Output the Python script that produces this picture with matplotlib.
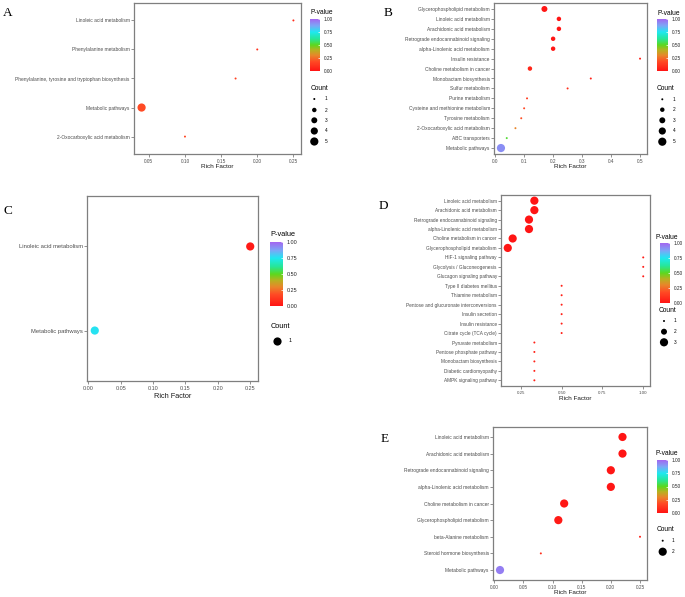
import numpy as np
import matplotlib
matplotlib.use("Agg")
import matplotlib.pyplot as plt
from matplotlib.colors import LinearSegmentedColormap, Normalize
from matplotlib.cm import ScalarMappable

plt.rcParams['font.family'] = ['Liberation Sans', 'DejaVu Sans']

# ---------------- data ----------------
A_terms = ["Linoleic acid metabolism", "Phenylalanine metabolism",
           "Phenylalanine, tyrosine and tryptophan biosynthesis",
           "Metabolic pathways", "2-Oxocarboxylic acid metabolism"]
A_rich = [0.25, 0.20, 0.17, 0.04, 0.10]
A_p = [0.08, 0.10, 0.15, 0.18, 0.17]
A_count = [1, 1, 1, 5, 1]
A_levels = [1, 2, 3, 4, 5]

B_terms = ["Glycerophospholipid metabolism", "Linoleic acid metabolism",
           "Arachidonic acid metabolism", "Retrograde endocannabinoid signaling",
           "alpha-Linolenic acid metabolism", "Insulin resistance",
           "Choline metabolism in cancer", "Monobactam biosynthesis",
           "Sulfur metabolism", "Purine metabolism",
           "Cysteine and methionine metabolism", "Tyrosine metabolism",
           "2-Oxocarboxylic acid metabolism", "ABC transporters",
           "Metabolic pathways"]
B_rich = [0.17, 0.22, 0.22, 0.20, 0.20, 0.50, 0.12, 0.33, 0.25, 0.11,
          0.10, 0.09, 0.07, 0.04, 0.02]
B_p = [0.01, 0.005, 0.005, 0.01, 0.01, 0.04, 0.06, 0.05, 0.09, 0.14,
       0.17, 0.19, 0.30, 0.52, 0.92]
B_count = [3, 2, 2, 2, 2, 1, 2, 1, 1, 1, 1, 1, 1, 1, 5]
B_levels = [1, 2, 3, 4, 5]

C_terms = ["Linoleic acid metabolism", "Metabolic pathways"]
C_rich = [0.25, 0.01]
C_p = [0.02, 0.76]
C_count = [1, 1]
C_levels = [1]

D_terms = ["Linoleic acid metabolism", "Arachidonic acid metabolism",
           "Retrograde endocannabinoid signaling", "alpha-Linolenic acid metabolism",
           "Choline metabolism in cancer", "Glycerophospholipid metabolism",
           "HIF-1 signaling pathway", "Glycolysis / Gluconeogenesis",
           "Glucagon signaling pathway", "Type II diabetes mellitus",
           "Thiamine metabolism", "Pentose and glucuronate interconversions",
           "Insulin secretion", "Insulin resistance", "Citrate cycle (TCA cycle)",
           "Pyruvate metabolism", "Pentose phosphate pathway",
           "Monobactam biosynthesis", "Diabetic cardiomyopathy",
           "AMPK signaling pathway"]
D_rich = [0.333, 0.333, 0.30, 0.30, 0.20, 0.17, 1.0, 1.0, 1.0, 0.5, 0.5, 0.5,
          0.5, 0.5, 0.5, 0.333, 0.333, 0.333, 0.333, 0.333]
D_p = [0.002, 0.002, 0.003, 0.003, 0.006, 0.008, 0.03, 0.03, 0.03, 0.04, 0.04,
       0.04, 0.04, 0.04, 0.04, 0.05, 0.05, 0.05, 0.05, 0.05]
D_count = [3, 3, 3, 3, 3, 3, 1, 1, 1, 1, 1, 1, 1, 1, 1, 1, 1, 1, 1, 1]
D_levels = [1, 2, 3]

E_terms = ["Linoleic acid metabolism", "Arachidonic acid metabolism",
           "Retrograde endocannabinoid signaling", "alpha-Linolenic acid metabolism",
           "Choline metabolism in cancer", "Glycerophospholipid metabolism",
           "beta-Alanine metabolism", "Steroid hormone biosynthesis",
           "Metabolic pathways"]
E_rich = [0.22, 0.22, 0.20, 0.20, 0.12, 0.11, 0.25, 0.08, 0.01]
E_p = [0.005, 0.005, 0.01, 0.01, 0.015, 0.02, 0.05, 0.09, 0.95]
E_count = [2, 2, 2, 2, 2, 2, 1, 1, 2]
E_levels = [1, 2]

cbar_ticks = [0.0, 0.25, 0.5, 0.75, 1.0]
cbar_ticklabels = ["0.00", "0.25", "0.50", "0.75", "1.00"]

# ---------------- style ----------------
W, H = 685, 597
fig = plt.figure(figsize=(W / 100, H / 100), dpi=100)

cmap = LinearSegmentedColormap.from_list("pv", [
    (0.0, "#FF1414"), (0.18, "#FF4A24"), (0.3, "#E8862A"), (0.4, "#B8B020"),
    (0.5, "#5CD81E"), (0.62, "#26E69A"), (0.75, "#1EE8F0"), (0.87, "#7AA8F6"),
    (1.0, "#A366F0")])
norm = Normalize(0, 1)

GRAY_TXT = "#4D4D4D"
SPINE = "#7F7F7F"
DMIN, DMAX = 2.0, 8.2  # point diameters in px


def rect(l, t, r, b):
    return [l / W, 1 - b / H, (r - l) / W, (b - t) / H]


def sizes(counts, levels):
    counts = np.asarray(counts, float)
    lo, hi = min(levels), max(levels)
    amin, amax = DMIN ** 2, DMAX ** 2
    if hi == lo:
        area = np.full_like(counts, amax)
    else:
        area = amin + (counts - lo) / (hi - lo) * (amax - amin)
    return area * 0.72 ** 2


def panel(box, terms, rich, p, counts, levels, ticks, fmt, lab_fs, tick_fs,
          xl_fs, xl_y):
    ax = fig.add_axes(rect(*box))
    n = len(terms)
    ax.scatter(rich, terms, s=sizes(counts, levels), c=p, cmap=cmap, norm=norm,
               linewidths=0, zorder=3)
    ax.set_ylim(n - 1 + 0.6, -0.6)
    lo, hi = min(rich), max(rich)
    e = 0.05 * (hi - lo)
    ax.set_xlim(lo - e, hi + e)
    ax.set_xticks(ticks)
    ax.set_xticklabels([fmt.format(t) for t in ticks])
    ax.tick_params(axis='y', labelsize=lab_fs, colors=SPINE, labelcolor=GRAY_TXT,
                   length=2, width=0.6, pad=1)
    ax.tick_params(axis='x', labelsize=tick_fs, colors=SPINE, labelcolor=GRAY_TXT,
                   length=2, width=0.6, pad=1.5)
    for s in ax.spines.values():
        s.set_color(SPINE)
        s.set_linewidth(0.9)
    cx = (box[0] + box[2]) / 2
    fig.text(cx / W, 1 - xl_y / H, "Rich Factor", ha='center', va='center',
             fontsize=xl_fs, color='#1a1a1a')
    return ax


def colorbar(title_xy, cb_box, fs_title=4.8, fs_tick=3.4):
    fig.text(title_xy[0] / W, 1 - title_xy[1] / H, "P-value", ha='left',
             va='center', fontsize=fs_title)
    cax = fig.add_axes(rect(*cb_box))
    cb = fig.colorbar(ScalarMappable(norm=norm, cmap=cmap), cax=cax,
                      ticks=cbar_ticks)
    cb.outline.set_visible(False)
    cb.ax.set_yticklabels(cbar_ticklabels)
    cb.ax.tick_params(labelsize=fs_tick, length=1.5, width=0.5, color='white',
                      direction='in', pad=2.5, labelcolor='#222222')


def count_legend(title_xy, dot_x, lab_x, ys, levels, fs_title=4.8, fs_tick=3.4):
    fig.text(title_xy[0] / W, 1 - title_xy[1] / H, "Count", ha='left',
             va='center', fontsize=fs_title)
    top, bot = ys[0] - 6, ys[-1] + 6
    lax = fig.add_axes(rect(dot_x - 8, top, lab_x + 10, bot))
    lax.set_axis_off()
    k = len(levels)
    lax.set_xlim(dot_x - 8, lab_x + 10)
    lax.set_ylim(bot, top)
    lax.scatter([dot_x] * k, ys, s=sizes(levels, levels), c='black',
                linewidths=0, clip_on=False)
    for y, lv in zip(ys, levels):
        lax.text(lab_x, y, str(lv), ha='left', va='center', fontsize=fs_tick)


def letter(x, y, s):
    fig.text(x / W, 1 - y / H, s, ha='left', va='center', fontsize=9.5,
             family='Liberation Serif')


# ---------------- panels ----------------
panel((134, 3, 301, 154), A_terms, A_rich, A_p, A_count, A_levels,
      [0.05, 0.10, 0.15, 0.20, 0.25], "{:.2f}", 3.5, 3.4, 4.6, 166)
colorbar((310.5, 13), (310, 19, 320, 71))
count_legend((310.5, 88), 314.3, 324.5, [99, 110, 120.3, 131, 141.5], A_levels)
letter(3, 13, "A")

panel((494, 3, 647, 154), B_terms, B_rich, B_p, B_count, B_levels,
      [0.0, 0.1, 0.2, 0.3, 0.4, 0.5], "{:.1f}", 3.5, 3.4, 4.6, 166)
colorbar((657, 13.3), (657.3, 19, 668.3, 71))
count_legend((657, 88), 662.3, 672.5, [99.3, 109.7, 120.3, 131, 141.7], B_levels)
letter(384, 12.5, "B")

panel((87, 196, 258, 381), C_terms, C_rich, C_p, C_count, C_levels,
      [0.0, 0.05, 0.10, 0.15, 0.20, 0.25], "{:.2f}", 4.2, 3.9, 5.3, 396)
colorbar((270.5, 235), (270, 242, 283, 306), fs_title=5.3, fs_tick=3.9)
count_legend((270.5, 327), 276.7, 289, [340.7], C_levels, fs_title=5.3, fs_tick=3.9)
letter(3, 211, "C")

panel((501, 195, 650, 386), D_terms, D_rich, D_p, D_count, D_levels,
      [0.25, 0.50, 0.75, 1.00], "{:.2f}", 3.4, 3.2, 4.6, 398)
colorbar((655, 237), (660, 243, 670, 303))
count_legend((659, 310.7), 664, 674, [321, 331.7, 342.3], D_levels)
letter(379, 206, "D")

panel((493, 427, 647, 580), E_terms, E_rich, E_p, E_count, E_levels,
      [0.0, 0.05, 0.10, 0.15, 0.20, 0.25], "{:.2f}", 3.5, 3.4, 4.6, 592)
colorbar((656, 453.3), (657, 460, 668, 513))
count_legend((657, 529.3), 662.7, 671.7, [540.7, 551.7], E_levels)
letter(381, 439, "E")

fig.savefig("out.png", dpi=100)
